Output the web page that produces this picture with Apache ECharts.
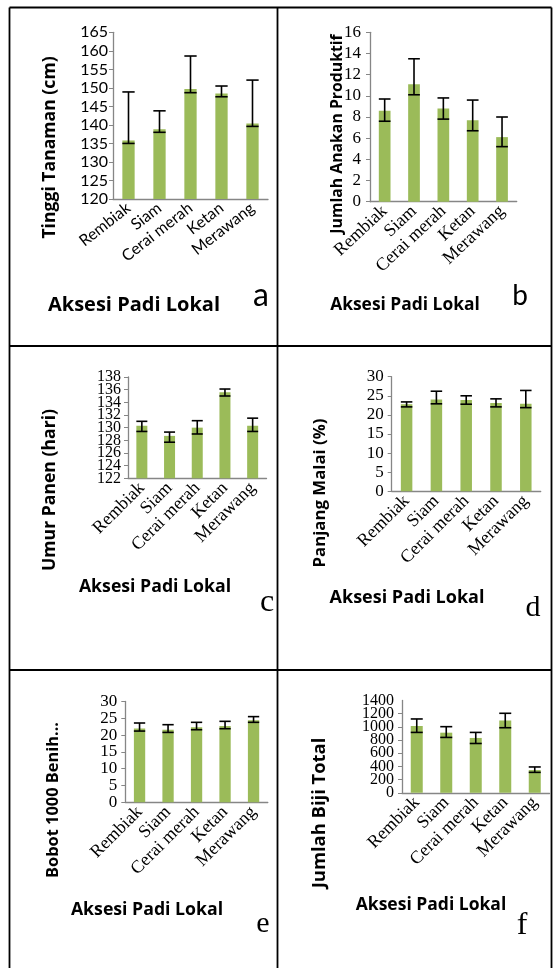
<!DOCTYPE html>
<html>
<head>
<meta charset="utf-8">
<script src="https://cdn.jsdelivr.net/npm/echarts@6/dist/echarts.min.js"></script>
<style>
html,body{margin:0;padding:0;background:#fff;}
#chart{width:553px;height:968px;}
</style>
</head>
<body>
<div id="chart"></div>
<script>
const categories = ['Rembiak', 'Siam', 'Cerai merah', 'Ketan', 'Merawang'];

// a: Tinggi Tanaman (cm)
const tinggiMean = [135.8, 138.8, 149.7, 148.5, 140.4];
const tinggiLow  = [135.0, 138.0, 148.7, 147.6, 139.6];
const tinggiHigh = [148.9, 143.8, 158.6, 150.5, 152.1];
const tinggiTicks = [120, 165, 5];

// b: Jumlah Anakan Produktif
const anakanMean = [8.6, 11.1, 8.8, 7.7, 6.1];
const anakanLow  = [7.6, 10.1, 7.8, 6.7, 5.2];
const anakanHigh = [9.7, 13.5, 9.8, 9.6, 8.0];
const anakanTicks = [0, 16, 2];

// c: Umur Panen (hari)
const umurMean = [130.3, 128.7, 130.0, 135.6, 130.3];
const umurLow  = [129.4, 127.7, 129.0, 135.0, 129.4];
const umurHigh = [131.0, 129.3, 131.1, 136.1, 131.5];
const umurTicks = [122, 138, 2];

// d: Panjang Malai (%)
const malaiMean = [22.8, 24.0, 23.9, 23.1, 22.9];
const malaiLow  = [22.1, 22.9, 22.8, 22.1, 21.9];
const malaiHigh = [23.4, 26.2, 25.0, 24.2, 26.4];
const malaiTicks = [0, 30, 5];

// e: Bobot 1000 Benih
const bobotMean = [22.0, 21.6, 22.3, 22.7, 24.4];
const bobotLow  = [21.2, 20.8, 21.6, 21.9, 23.8];
const bobotHigh = [23.6, 23.1, 23.8, 24.1, 25.5];
const bobotTicks = [0, 30, 5];

// f: Jumlah Biji Total
const bijiMean = [1015, 912, 832, 1095, 345];
const bijiLow  = [916, 840, 748, 987, 310];
const bijiHigh = [1120, 1003, 916, 1206, 392];
const bijiTicks = [0, 1400, 200];

const yTitles = ['Tinggi Tanaman (cm)', 'Jumlah Anakan Produktif', 'Umur Panen (hari)', 'Panjang Malai (%)', 'Bobot 1000 Benih...', 'Jumlah Biji Total'];
const xTitle = 'Aksesi Padi Lokal';
const panelLetters = ['a', 'b', 'c', 'd', 'e', 'f'];

const panels = [
  {mean: tinggiMean, low: tinggiLow, high: tinggiHigh, ticks: tinggiTicks},
  {mean: anakanMean, low: anakanLow, high: anakanHigh, ticks: anakanTicks},
  {mean: umurMean, low: umurLow, high: umurHigh, ticks: umurTicks},
  {mean: malaiMean, low: malaiLow, high: malaiHigh, ticks: malaiTicks},
  {mean: bobotMean, low: bobotLow, high: bobotHigh, ticks: bobotTicks},
  {mean: bijiMean, low: bijiLow, high: bijiHigh, ticks: bijiTicks}
];

// layout (pixels)
const layout = [
  {left: 113, top: 32.3, width: 155, height: 166.7, barW: 12.3, sans: true, tickFont: 16, catFont: 16, rot: 38, yLabelMargin: 5, split: false,
   yt: {x: 50, y: 147.5, size: 17.6}, xt: {x: 134, y: 305, size: 20}, letter: {x: 261, y: 296, size: 32, serif: false}},
  {left: 370, top: 32.3, width: 146.7, height: 169.4, barW: 11.7, sans: false, tickFont: 17, catFont: 18, rot: 43, yLabelMargin: 9, split: false,
   yt: {x: 337, y: 134, size: 15.8}, xt: {x: 405, y: 305, size: 17.4}, letter: {x: 520, y: 296, size: 28, serif: false}},
  {left: 128, top: 377, width: 138.5, height: 101.3, barW: 11, sans: false, tickFont: 16, catFont: 18, rot: 45, yLabelMargin: 7, split: true,
   yt: {x: 50, y: 490, size: 17.6}, xt: {x: 155, y: 587, size: 17.7}, letter: {x: 267, y: 603, size: 32, serif: true}},
  {left: 391.7, top: 376.7, width: 149, height: 114.6, barW: 11.5, sans: false, tickFont: 17, catFont: 18, rot: 45, yLabelMargin: 8, split: false,
   yt: {x: 320, y: 493, size: 16.8}, xt: {x: 407, y: 598, size: 18}, letter: {x: 533, y: 608, size: 30, serif: true}},
  {left: 125.3, top: 701.5, width: 142.5, height: 100.8, barW: 11.3, sans: false, tickFont: 17, catFont: 18, rot: 45, yLabelMargin: 8, split: true,
   yt: {x: 53, y: 800, size: 16.4}, xt: {x: 147, y: 910, size: 17.7}, letter: {x: 263, y: 924, size: 30, serif: true}},
  {left: 402, top: 700.5, width: 147.5, height: 92.3, barW: 12, sans: false, tickFont: 16, catFont: 18, rot: 45, yLabelMargin: 8, split: true,
   yt: {x: 320, y: 813, size: 18.4}, xt: {x: 431, y: 905, size: 17.5}, letter: {x: 522, y: 926, size: 32, serif: true}}
];

const SANS = 'Lato';
const BOLD = 'Open Sans';
const SERIF = 'Liberation Serif';
const BAR = '#9BBB59';
const AXIS = '#868686';

function errRender(capW) {
  return function (params, api) {
    const i = api.value(0);
    const lo = api.coord([i, api.value(1)]);
    const hi = api.coord([i, api.value(2)]);
    const h = capW / 2;
    const st = {stroke: '#000', lineWidth: 1.6};
    return {
      type: 'group',
      children: [
        {type: 'line', shape: {x1: lo[0], y1: lo[1], x2: hi[0], y2: hi[1]}, style: st},
        {type: 'line', shape: {x1: hi[0] - h, y1: hi[1], x2: hi[0] + h, y2: hi[1]}, style: st},
        {type: 'line', shape: {x1: lo[0] - h, y1: lo[1], x2: lo[0] + h, y2: lo[1]}, style: st}
      ]
    };
  };
}

const grid = [], xAxis = [], yAxis = [], series = [], graphic = [];
const extraYAxes = [];

panels.forEach((p, k) => {
  const L = layout[k];
  const font = L.sans ? SANS : SERIF;
  grid.push({left: L.left, top: L.top, width: L.width, height: L.height, containLabel: false});
  xAxis.push({
    type: 'category', gridIndex: k, data: categories,
    axisLine: {show: true, lineStyle: {color: AXIS, width: 1.3}},
    axisTick: {show: false},
    axisLabel: {rotate: L.rot, interval: 0, margin: 7, hideOverlap: false, fontFamily: font, fontSize: L.catFont, color: '#000'}
  });
  const nSteps = Math.round((p.ticks[1] - p.ticks[0]) / p.ticks[2]);
  const baseLabel = {margin: L.yLabelMargin, hideOverlap: false, fontFamily: font, fontSize: L.tickFont, color: '#000'};
  let yLabel;
  if (L.split) {
    // tightly packed tick labels: even ticks on this axis, odd ticks on an overlaid twin axis
    yLabel = Object.assign({}, baseLabel, {showMinLabel: true, showMaxLabel: nSteps % 2 === 0,
      formatter: (v, i) => (i % 2 === 0 ? String(v) : '')});
    extraYAxes.push({
      type: 'value', gridIndex: k, position: 'left', offset: 0,
      min: p.ticks[0], max: p.ticks[1], interval: p.ticks[2],
      axisLine: {show: false}, axisTick: {show: false}, splitLine: {show: false},
      axisLabel: Object.assign({}, baseLabel, {showMinLabel: false, showMaxLabel: nSteps % 2 === 1,
        formatter: (v, i) => (i % 2 === 1 ? String(v) : '')})
    });
  } else {
    yLabel = Object.assign({}, baseLabel, {showMinLabel: true, showMaxLabel: true, formatter: v => String(v)});
  }
  yAxis.push({
    type: 'value', gridIndex: k, position: 'left', min: p.ticks[0], max: p.ticks[1], interval: p.ticks[2],
    axisLine: {show: true, lineStyle: {color: AXIS, width: 1.3}},
    axisTick: {show: true, length: 4, lineStyle: {color: AXIS}},
    splitLine: {show: false},
    axisLabel: yLabel
  });
  series.push({
    type: 'bar', xAxisIndex: k, yAxisIndex: k, data: p.mean, barWidth: L.barW,
    itemStyle: {color: BAR}, silent: true, animation: false
  });
  series.push({
    type: 'custom', xAxisIndex: k, yAxisIndex: k,
    data: categories.map((c, i) => [i, p.low[i], p.high[i]]),
    encode: {x: 0, y: [1, 2]},
    renderItem: errRender(L.barW), z: 5, silent: true, animation: false
  });
  graphic.push({
    type: 'text', rotation: Math.PI / 2, x: L.yt.x, y: L.yt.y,
    style: {text: yTitles[k], fontFamily: BOLD, fontWeight: 'bold', fontSize: L.yt.size, fill: '#000', align: 'center', verticalAlign: 'middle'}
  });
  graphic.push({
    type: 'text', x: L.xt.x, y: L.xt.y,
    style: {text: xTitle, fontFamily: BOLD, fontWeight: 'bold', fontSize: L.xt.size, fill: '#000', align: 'center', verticalAlign: 'middle'}
  });
  graphic.push({
    type: 'text', x: L.letter.x, y: L.letter.y,
    style: {text: panelLetters[k], fontFamily: L.letter.serif ? SERIF : SANS, fontSize: L.letter.size, fill: '#000', align: 'center', verticalAlign: 'middle'}
  });
});
extraYAxes.forEach(a => yAxis.push(a));

// table borders
const bw = 1.8;
const borders = [
  [9.5, 7.5, 551.5, 7.5],
  [9.5, 7.5, 9.5, 968],
  [551.5, 7.5, 551.5, 968],
  [277.5, 7.5, 277.5, 968],
  [9.5, 346, 551.5, 346],
  [9.5, 670, 551.5, 670]
];
borders.forEach(b => graphic.push({type: 'line', shape: {x1: b[0], y1: b[1], x2: b[2], y2: b[3]}, style: {stroke: '#000', lineWidth: bw}, z: 10}));

const chart = echarts.init(document.getElementById('chart'), null, {renderer: 'canvas'});
chart.setOption({animation: false, grid, xAxis, yAxis, series, graphic});
</script>
</body>
</html>
